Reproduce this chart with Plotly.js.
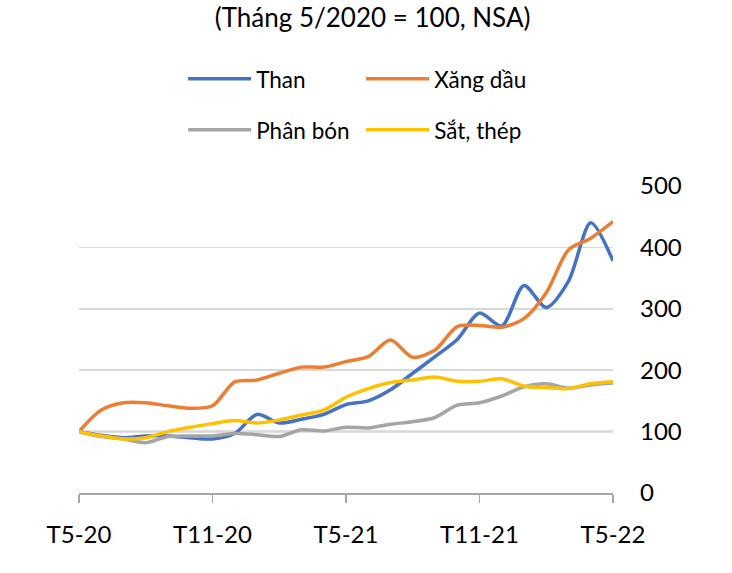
<!DOCTYPE html>
<html>
<head>
<meta charset="utf-8">
<script src="https://cdn.plot.ly/plotly-3.0.1.min.js"></script>
<style>html,body{margin:0;padding:0;background:#fff;}#chart{width:732px;height:573px;}</style>
</head>
<body>
<div id="chart"></div>
<script>
// Months May-2020 .. May-2022 (index 0..24)
const monthIndex = [0,1,2,3,4,5,6,7,8,9,10,11,12,13,14,15,16,17,18,19,20,21,22,23,24];
const tickPositions = [0, 6, 12, 18, 24];
const tickLabels = ["T5-20", "T11-20", "T5-21", "T11-21", "T5-22"];

const seriesNames = ["Than", "Xăng dầu", "Phân bón", "Sắt, thép"];
const than     = [100, 94, 90, 93, 93, 90, 88, 97, 128, 114, 120, 128, 144, 150, 168, 195, 222, 250, 293, 272, 338, 302, 345, 440, 378];
const xangDau  = [100, 135, 147, 147, 142, 138, 142, 181, 184, 195, 205, 205, 214, 222, 249, 221, 233, 271, 273, 270, 284, 326, 396, 415, 442];
const phanBon  = [100, 92, 88, 82, 92, 93, 93, 97, 95, 92, 103, 101, 107, 106, 112, 116, 123, 143, 147, 158, 173, 178, 171, 176, 179];
const satThep  = [100, 93, 88, 90, 100, 107, 113, 118, 114, 119, 127, 135, 156, 170, 180, 184, 189, 182, 182, 186, 174, 172, 170, 178, 181];
const baseValue = 100;

const colors = ["#4472C4", "#ED7D31", "#A5A5A5", "#FFC000"];
const allSeries = [than, xangDau, phanBon, satThep];
const legendIds = ["legend", "legend", "legend2", "legend2"];

const FONT = "Lato, 'Open Sans', sans-serif";

const traces = allSeries.map((vals, i) => ({
  x: monthIndex,
  y: vals,
  name: seriesNames[i],
  type: "scatter",
  mode: "lines",
  line: {color: colors[i], width: 3.5, shape: "spline", smoothing: 0.8},
  legend: legendIds[i],
  hoverinfo: "skip"
}));

const legendCommon = {
  orientation: "h",
  xanchor: "left",
  yanchor: "middle",
  x: 0.195,
  entrywidth: 100,
  entrywidthmode: "pixels",
  itemwidth: 63,
  font: {family: FONT, size: 22.5, color: "#000"},
  bgcolor: "rgba(0,0,0,0)",
  tracegroupgap: 0
};

const layout = {
  width: 732,
  height: 573,
  margin: {l: 79, r: 119, t: 186, b: 80},
  paper_bgcolor: "#fff",
  plot_bgcolor: "#fff",
  font: {family: FONT, size: 24, color: "#000"},
  title: {
    text: "(Tháng 5/2020 = 100, NSA)",
    x: 0.509, xanchor: "center", xref: "container",
    y: 0.968, yanchor: "middle", yref: "container",
    font: {family: FONT, size: 26, color: "#000"}
  },
  showlegend: true,
  legend: Object.assign({}, legendCommon, {y: 1.348}),
  legend2: Object.assign({}, legendCommon, {y: 1.182}),
  xaxis: {
    range: [0, 24],
    tickmode: "array",
    tickvals: tickPositions,
    ticktext: tickLabels,
    showgrid: false,
    zeroline: false,
    showline: true,
    linecolor: "#A6A6A6",
    linewidth: 1.5,
    ticks: "outside",
    ticklen: 8,
    tickwidth: 1.5,
    tickcolor: "#A6A6A6",
    ticklabelstandoff: 12,
    tickfont: {family: FONT, size: 24, color: "#000"},
    fixedrange: true
  },
  yaxis: {
    range: [0, 500],
    side: "right",
    dtick: 100,
    tick0: 0,
    showgrid: true,
    gridcolor: "#D9D9D9",
    gridwidth: 1.5,
    zeroline: false,
    showline: false,
    ticks: "",
    ticklabelstandoff: 26,
    tickfont: {family: FONT, size: 24, color: "#000"},
    fixedrange: true
  },
  shapes: [{
    type: "line", xref: "paper", yref: "y",
    x0: 0, x1: 1, y0: baseValue, y1: baseValue,
    line: {color: "#808080", width: 1.5},
    layer: "below"
  }]
};

Plotly.newPlot("chart", traces, layout, {displayModeBar: false, staticPlot: true});
</script>
</body>
</html>
